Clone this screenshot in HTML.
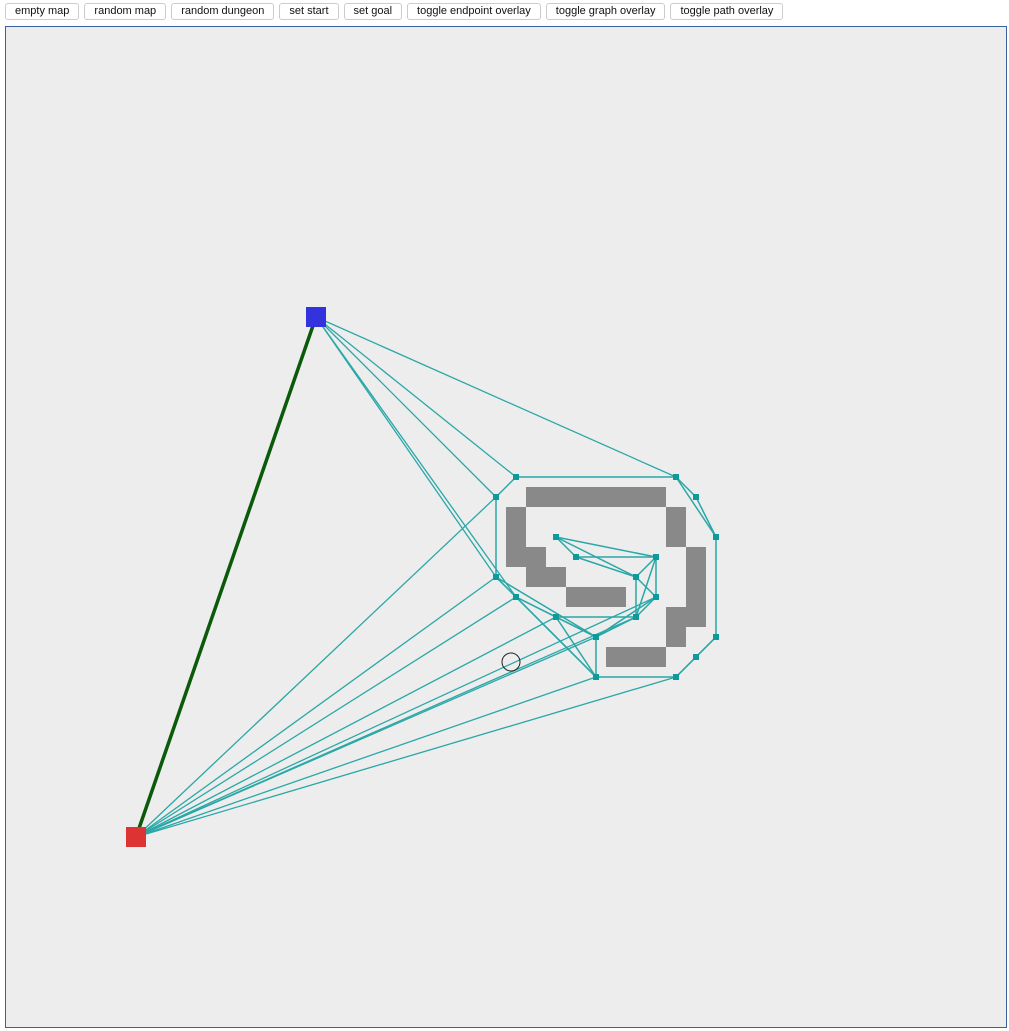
<!DOCTYPE html>
<html><head><meta charset="utf-8"><style>
body{margin:0;background:#fff;font-family:"Liberation Sans",sans-serif;width:1009px;height:1031px;overflow:hidden;position:relative}
.btns{position:absolute;left:5px;top:3px;display:flex;gap:5px}
.btns button{font:11px "Liberation Sans",sans-serif;height:17px;padding:0 9px;border:1px solid #ccc;border-radius:3px;background:#fff;color:#111;line-height:15px}
svg{position:absolute;left:5px;top:26px}
</style></head><body>
<div class="btns">
<button>empty map</button>
<button>random map</button>
<button>random dungeon</button>
<button>set start</button>
<button>set goal</button>
<button>toggle endpoint overlay</button>
<button>toggle graph overlay</button>
<button>toggle path overlay</button>
</div>
<svg id="map" width="1002" height="1002" viewBox="-1 -1 1002 1002">
<rect x="-0.5" y="-0.5" width="1001" height="1001" fill="#ededed" stroke="#3a5f9a" stroke-width="1"/>
</svg>
<script>
// grid cells (col,row,w,h) in 20px cells
const walls=[[26,23,7,1],[25,24,1,3],[26,26,1,1],[26,27,2,1],[28,28,3,1],[33,24,1,2],[34,26,1,4],[33,29,1,2],[30,31,3,1]];
const nodes=[[516,477],[676,477],[696,497],[716,537],[716,637],[696,657],[676,677],[596,677],[596,637],[556,617],[516,597],[496,577],[496,497],[556,537],[576,557],[656,557],[636,577],[656,597],[636,617]];
const edges=[[0,1],[1,2],[2,3],[1,3],[3,4],[4,5],[5,6],[4,6],[6,7],[7,8],[12,0],[12,11],[11,10],[10,9],[11,8],[10,8],[9,8],[9,7],[11,7],[10,7],[8,18],[8,17],[9,18],[13,15],[13,14],[13,16],[14,15],[14,16],[15,16],[15,17],[15,18],[16,17],[16,18],[18,17]];
const start=[316,317], goal=[136,837];
const startEdges=[1,0,12,11,10];
const goalEdges=[12,11,10,9,8,18,17,7,6];
const ox=6,oy=27;
const svg=document.getElementById('map');
const NS='http://www.w3.org/2000/svg';
function X(v){return v-ox;} function Y(v){return v-oy;}
walls.forEach(w=>{const r=document.createElementNS(NS,'rect');
r.setAttribute('x',w[0]*20);r.setAttribute('y',w[1]*20);r.setAttribute('width',w[2]*20);r.setAttribute('height',w[3]*20);r.setAttribute('fill','#898989');


svg.appendChild(r);});
function line(a,b,col,w,name){const l=document.createElementNS(NS,'line');
l.setAttribute('x1',X(a[0]));l.setAttribute('y1',Y(a[1]));l.setAttribute('x2',X(b[0]));l.setAttribute('y2',Y(b[1]));
l.setAttribute('stroke',col);l.setAttribute('stroke-width',w);


svg.appendChild(l);}
edges.forEach(e=>line(nodes[e[0]],nodes[e[1]],'#2aa7a7',1.5,'graph-edge'));
startEdges.forEach(i=>line(start,nodes[i],'#2aa7a7',1.3,'start-edge'));
goalEdges.forEach(i=>line(goal,nodes[i],'#2aa7a7',1.3,'goal-edge'));
line(start,goal,'#0a5a0a',3.5,'path-line');
nodes.forEach(n=>{const r=document.createElementNS(NS,'rect');
r.setAttribute('x',X(n[0])-3);r.setAttribute('y',Y(n[1])-3);r.setAttribute('width',6);r.setAttribute('height',6);r.setAttribute('fill','#0e9a9a');


svg.appendChild(r);});
function sq(p,col,name){const r=document.createElementNS(NS,'rect');
r.setAttribute('x',X(p[0])-10);r.setAttribute('y',Y(p[1])-10);r.setAttribute('width',20);r.setAttribute('height',20);r.setAttribute('fill',col);


svg.appendChild(r);}
sq(start,'#3333dd','start-marker');
sq(goal,'#dd3333','goal-marker');
const c=document.createElementNS(NS,'circle');
c.setAttribute('cx',X(511));c.setAttribute('cy',Y(662));c.setAttribute('r',9);c.setAttribute('fill','none');c.setAttribute('stroke','#222');


svg.appendChild(c);
</script>
</body></html>
